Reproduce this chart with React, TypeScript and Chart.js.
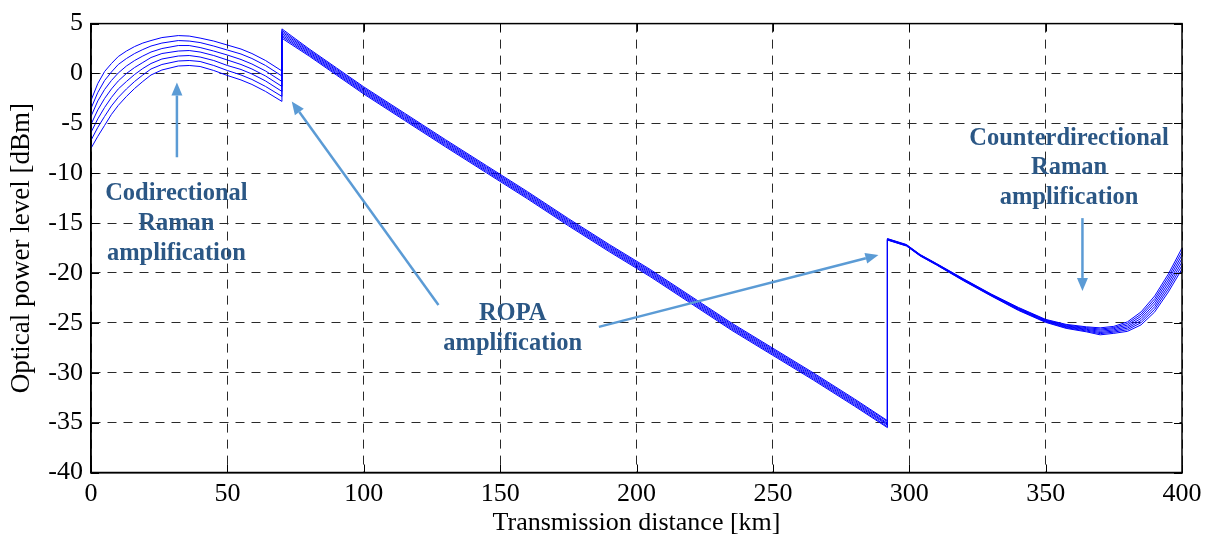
import { useEffect, useRef } from "react";
import { Chart, registerables } from "chart.js";

Chart.register(...registerables);

// Shared distance axis (km); duplicated values mark the amplifier jumps
const distanceKm = [
  0, 2.5, 5, 7.5, 10, 13, 16, 19, 22, 26, 32, 36, 40, 45, 50, 55, 59, 64, 70,
  70, 80, 90, 100, 115, 130, 145, 160, 175, 190, 205, 220, 235, 250, 265, 280, 292,
  292, 299, 304, 310, 320, 330, 340, 350, 357.5, 365, 370, 375, 380, 385, 390, 395, 400,
];

// Optical power of each WDM channel (dBm)
const channel1 = [
  -2.7, -1.0, 0.2, 1.0, 1.7, 2.25, 2.7, 3.05, 3.3, 3.6, 3.8, 3.75, 3.55, 3.25, 2.85, 2.45, 2.0, 1.3, 0.25,
  4.47, 2.46, 0.56, -1.34, -3.99, -6.64, -9.24, -11.84, -14.54, -17.14, -19.64, -22.34, -25.04, -27.54, -30.04, -32.64, -34.8,
  -16.55, -17.15, -18.15, -19.05, -20.6, -22.1, -23.45, -24.65, -25.15, -25.4, -25.5, -25.35, -24.9, -23.9, -22.3, -20.1, -17.5,
];
const channel2 = [
  -3.5, -1.9, -0.7, 0.15, 0.9, 1.5, 2.0, 2.4, 2.75, 3.05, 3.3, 3.25, 3.1, 2.75, 2.35, 1.95, 1.5, 0.8, -0.25,
  4.31, 2.34, 0.44, -1.46, -4.11, -6.76, -9.36, -11.96, -14.66, -17.26, -19.76, -22.46, -25.16, -27.66, -30.16, -32.76, -34.9,
  -16.58, -17.18, -18.17, -19.08, -20.63, -22.13, -23.5, -24.7, -25.22, -25.48, -25.62, -25.47, -25.06, -24.12, -22.57, -20.4, -17.85,
];
const channel3 = [
  -4.3, -2.75, -1.6, -0.7, 0.05, 0.75, 1.3, 1.75, 2.15, 2.5, 2.8, 2.8, 2.6, 2.25, 1.85, 1.4, 0.95, 0.25, -0.8,
  4.16, 2.22, 0.32, -1.58, -4.23, -6.88, -9.48, -12.08, -14.78, -17.38, -19.88, -22.58, -25.28, -27.78, -30.28, -32.88, -35.05,
  -16.6, -17.2, -18.2, -19.1, -20.67, -22.17, -23.55, -24.75, -25.29, -25.57, -25.73, -25.58, -25.22, -24.33, -22.83, -20.7, -18.2,
];
const channel4 = [
  -5.1, -3.65, -2.5, -1.55, -0.75, 0.0, 0.6, 1.1, 1.6, 2.0, 2.25, 2.3, 2.15, 1.8, 1.35, 0.9, 0.45, -0.25, -1.3,
  4.0, 2.1, 0.2, -1.7, -4.35, -7.0, -9.6, -12.2, -14.9, -17.5, -20.0, -22.7, -25.4, -27.9, -30.4, -33.0, -35.15,
  -16.62, -17.22, -18.22, -19.12, -20.7, -22.2, -23.6, -24.8, -25.35, -25.65, -25.85, -25.7, -25.38, -24.55, -23.1, -21.0, -18.55,
];
const channel5 = [
  -5.9, -4.55, -3.4, -2.4, -1.55, -0.8, -0.1, 0.5, 1.0, 1.45, 1.75, 1.8, 1.65, 1.3, 0.8, 0.4, -0.05, -0.75, -1.8,
  3.84, 1.98, 0.08, -1.82, -4.47, -7.12, -9.72, -12.32, -15.02, -17.62, -20.12, -22.82, -25.52, -28.02, -30.52, -33.12, -35.25,
  -16.65, -17.25, -18.25, -19.15, -20.73, -22.23, -23.65, -24.85, -25.41, -25.73, -25.97, -25.82, -25.53, -24.77, -23.37, -21.3, -18.9,
];
const channel6 = [
  -6.7, -5.4, -4.3, -3.25, -2.4, -1.55, -0.8, -0.15, 0.45, 0.9, 1.25, 1.3, 1.2, 0.8, 0.3, -0.15, -0.6, -1.3, -2.3,
  3.69, 1.86, -0.04, -1.94, -4.59, -7.24, -9.84, -12.44, -15.14, -17.74, -20.24, -22.94, -25.64, -28.14, -30.64, -33.24, -35.4,
  -16.68, -17.28, -18.27, -19.18, -20.77, -22.27, -23.7, -24.9, -25.48, -25.82, -26.08, -25.93, -25.69, -24.98, -23.63, -21.6, -19.25,
];
const channel7 = [
  -7.5, -6.3, -5.2, -4.1, -3.2, -2.3, -1.5, -0.8, -0.15, 0.35, 0.75, 0.8, 0.7, 0.3, -0.2, -0.65, -1.1, -1.8, -2.8,
  3.53, 1.74, -0.16, -2.06, -4.71, -7.36, -9.96, -12.56, -15.26, -17.86, -20.36, -23.06, -25.76, -28.26, -30.76, -33.36, -35.5,
  -16.7, -17.3, -18.3, -19.2, -20.8, -22.3, -23.75, -24.95, -25.55, -25.9, -26.2, -26.05, -25.85, -25.2, -23.9, -21.9, -19.6,
];

const channels = [channel1, channel2, channel3, channel4, channel5, channel6, channel7];

// Axis ranges / ticks
const xMin = 0;
const xMax = 400;
const xStep = 50;
const yMin = -40;
const yMax = 5;
const yStep = 5;

// Annotation labels (positions in data units: km, dBm)
const labelCodirectional = { x: 31.3, ys: [-12.0, -15.1, -18.1], lines: ["Codirectional", "Raman", "amplification"] };
const labelRopa = { x: 154.6, ys: [-24.1, -27.1], lines: ["ROPA", "amplification"] };
const labelCounter = { x: 358.6, ys: [-6.5, -9.4, -12.4], lines: ["Counterdirectional", "Raman", "amplification"] };

// Arrows: [fromKm, fromDbm, toKm, toDbm]
const arrowCodirectional = [31.5, -8.4, 31.5, -0.9];
const arrowRopaLeft = [127.4, -23.2, 73.6, -2.8];
const arrowRopaRight = [186.2, -25.4, 288.7, -18.2];
const arrowCounter = [363.5, -14.5, 363.5, -21.8];

const TEXT_COLOR = "#2B5785";
const ARROW_COLOR = "#5B9BD5";
const SERIF = "'Liberation Serif', 'Times New Roman', serif";

const framePlugin = {
  id: "frameAndAnnotations",
  afterDraw(chart: any) {
    const { ctx, chartArea, scales } = chart;
    const xs = scales.x;
    const ys = scales.y;
    const { left, right, top, bottom } = chartArea;
    ctx.save();
    // box
    ctx.strokeStyle = "#000";
    ctx.lineWidth = 1.5;
    ctx.setLineDash([]);
    ctx.strokeRect(left, top, right - left, bottom - top);
    // inward ticks
    ctx.lineWidth = 1;
    const tl = 8;
    for (let v = xMin; v <= xMax; v += xStep) {
      const px = Math.round(xs.getPixelForValue(v)) + 0.5;
      ctx.beginPath();
      ctx.moveTo(px, bottom);
      ctx.lineTo(px, bottom - tl);
      ctx.moveTo(px, top);
      ctx.lineTo(px, top + tl);
      ctx.stroke();
    }
    for (let v = yMin; v <= yMax; v += yStep) {
      const py = Math.round(ys.getPixelForValue(v)) + 0.5;
      ctx.beginPath();
      ctx.moveTo(left, py);
      ctx.lineTo(left + tl, py);
      ctx.moveTo(right, py);
      ctx.lineTo(right - tl, py);
      ctx.stroke();
    }

    // arrows
    const drawArrow = (a: number[]) => {
      const x1 = xs.getPixelForValue(a[0]);
      const y1 = ys.getPixelForValue(a[1]);
      const x2 = xs.getPixelForValue(a[2]);
      const y2 = ys.getPixelForValue(a[3]);
      const ang = Math.atan2(y2 - y1, x2 - x1);
      const hl = 13;
      const hw = 5.5;
      const bx = x2 - hl * Math.cos(ang);
      const by = y2 - hl * Math.sin(ang);
      ctx.strokeStyle = ARROW_COLOR;
      ctx.fillStyle = ARROW_COLOR;
      ctx.lineWidth = 2.5;
      ctx.beginPath();
      ctx.moveTo(x1, y1);
      ctx.lineTo(bx, by);
      ctx.stroke();
      ctx.beginPath();
      ctx.moveTo(x2, y2);
      ctx.lineTo(bx + hw * Math.sin(ang), by - hw * Math.cos(ang));
      ctx.lineTo(bx - hw * Math.sin(ang), by + hw * Math.cos(ang));
      ctx.closePath();
      ctx.fill();
    };
    [arrowCodirectional, arrowRopaLeft, arrowRopaRight, arrowCounter].forEach(drawArrow);

    // labels
    ctx.fillStyle = TEXT_COLOR;
    ctx.font = `bold 24.5px ${SERIF}`;
    ctx.textAlign = "center";
    ctx.textBaseline = "middle";
    [labelCodirectional, labelRopa, labelCounter].forEach((lab) => {
      const px = xs.getPixelForValue(lab.x);
      lab.lines.forEach((t, i) => {
        ctx.fillText(t, px, ys.getPixelForValue(lab.ys[i]));
      });
    });
    ctx.restore();
  },
};

export default function App() {
  const canvasRef = useRef<HTMLCanvasElement | null>(null);

  useEffect(() => {
    if (!canvasRef.current) return;
    const datasets = channels.map((ch) => ({
      data: distanceKm.map((x, i) => ({ x, y: ch[i] })),
      borderColor: "#0000FF",
      borderWidth: 1,
      pointRadius: 0,
      fill: false,
      tension: 0,
    }));
    const chart = new Chart(canvasRef.current, {
      type: "line",
      data: { datasets },
      plugins: [framePlugin],
      options: {
        responsive: false,
        animation: false,
        layout: { padding: { top: 21, right: 30, left: 0, bottom: 0 } },
        plugins: { legend: { display: false }, tooltip: { enabled: false } },
        scales: {
          x: {
            type: "linear",
            min: xMin,
            max: xMax,
            afterFit: (s: any) => {
              s.height = 63.5;
            },
            ticks: {
              stepSize: xStep,
              color: "#000",
              padding: 6,
              maxRotation: 0,
              font: { family: SERIF, size: 26 },
            },
            grid: { color: "#2a2a2a", lineWidth: 1, drawTicks: false },
            border: { display: true, color: "#000", width: 1.5, dash: [9, 7] },
            title: {
              display: true,
              text: "Transmission distance [km]",
              color: "#000",
              font: { family: SERIF, size: 26, lineHeight: 1 },
              padding: { top: 0, bottom: 0 },
            },
          },
          y: {
            type: "linear",
            min: yMin,
            max: yMax,
            afterFit: (s: any) => {
              s.width = 91;
            },
            ticks: {
              stepSize: yStep,
              color: "#000",
              padding: 8,
              font: { family: SERIF, size: 26 },
            },
            grid: { color: "#2a2a2a", lineWidth: 1, drawTicks: false },
            border: { display: true, color: "#000", width: 1.5, dash: [9, 7] },
            title: {
              display: true,
              text: "Optical power level [dBm]",
              color: "#000",
              font: { family: SERIF, size: 27, lineHeight: 1 },
              padding: { top: 8, bottom: 0 },
            },
          },
        },
      },
    } as any);
    return () => chart.destroy();
  }, []);

  return (
    <div style={{ position: "fixed", left: 0, top: 0, width: 1212, height: 536, background: "#fff" }}>
      <canvas ref={canvasRef} width={1212} height={536} style={{ display: "block" }} />
    </div>
  );
}
